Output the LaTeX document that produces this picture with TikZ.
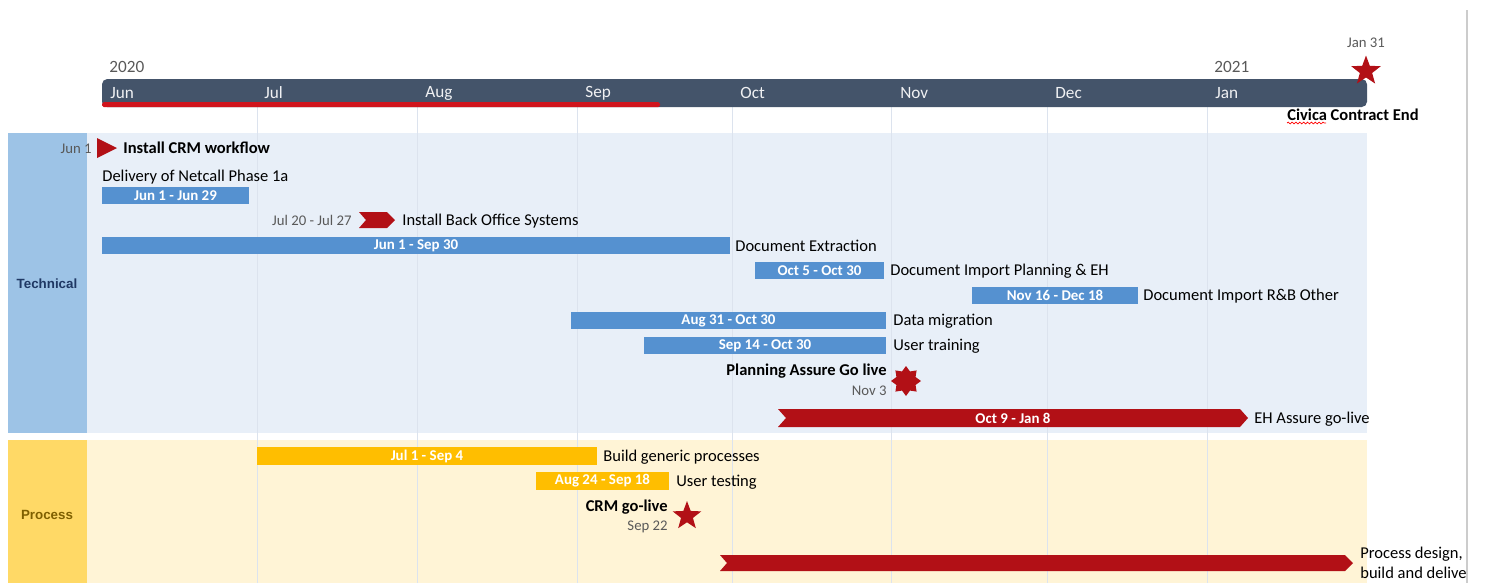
\documentclass[tikz,border=0pt]{standalone}
\usepackage{fontspec}
\setmainfont{Carlito}
\newfontfamily\arialfont{Liberation Sans}
\usepackage{xcolor}
\usepackage{tikz}
\usetikzlibrary{shapes.geometric, decorations.pathmorphing}

\definecolor{slate}{HTML}{44546A}
\definecolor{barblue}{HTML}{5591D0}
\definecolor{baryellow}{HTML}{FFBE00}
\definecolor{flagred}{HTML}{B21016}
\definecolor{progred}{HTML}{D0141C}
\definecolor{laneblue}{HTML}{E8EFF8}
\definecolor{laneblueside}{HTML}{9DC3E6}
\definecolor{laneyellow}{HTML}{FFF4D6}
\definecolor{laneyellowside}{HTML}{FFD966}
\definecolor{gridcol}{HTML}{DCE3EE}
\definecolor{datecol}{HTML}{595959}
\definecolor{techcol}{HTML}{1F3864}
\definecolor{proccol}{HTML}{7F6000}

\tikzset{
  tasklabel/.style={inner sep=0pt, font=\fontsize{9.4}{11}\selectfont},
  boldlabel/.style={inner sep=0pt, font=\fontsize{9.4}{11}\selectfont\bfseries},
  datelabel/.style={inner sep=0pt, text=datecol, font=\fontsize{8.4}{10}\selectfont},
  barlabel/.style={inner sep=0pt, text=white, font=\fontsize{8.5}{10}\selectfont\bfseries},
  monthlabel/.style={inner sep=0pt, anchor=west, text=white!92!slate, font=\fontsize{9.8}{11}\selectfont},
  lanelabel/.style={inner sep=0pt, font=\arialfont\fontsize{7.6}{9}\selectfont\bfseries},
  bluebar/.style={fill=barblue, draw=none},
  yellowbar/.style={fill=baryellow, draw=none},
  chevron/.style={fill=flagred},
  gridline/.style={draw=gridcol, line width=0.45pt}
}

\begin{document}
\begin{tikzpicture}[x=0.02cm, y=-0.02cm]
    \useasboundingbox (0,0) rectangle (1485,583);

    % Swimlanes
    \fill[laneblueside] (8,133) rectangle (87,433);
    \fill[laneblue] (87,133) rectangle (1367,433);
    \fill[laneyellowside] (8,440) rectangle (87,583);
    \fill[laneyellow] (87,440) rectangle (1367,583);
    \node[lanelabel, text=techcol] (technical) at (47,284) {Technical};
    \node[lanelabel, text=proccol] (process) at (47,515) {Process};

    % Month grid
    \foreach \gx in {257,417,577,732,891,1047,1207}
        \draw[gridline] (\gx,107) -- (\gx,583);
    \draw[gray!40, line width=1pt] (1467,10) -- (1467,583);

    % Time scale
    \fill[slate, rounded corners=3pt] (102,79) rectangle (1367,107);
    \fill[progred, rounded corners=1pt] (102,102) rectangle (660,107);
    \foreach \mx/\mn in {110/Jun,264/Jul,425/Aug,585/Sep,740/Oct,900/Nov,1055/Dec,1215/Jan}
        \node[monthlabel] (m\mn) at (\mx,93) {\mn};
    \node[tasklabel, anchor=west, text=datecol, font=\fontsize{9.8}{11}\selectfont] (y2020) at (109,67) {2020};
    \node[tasklabel, anchor=west, text=datecol, font=\fontsize{9.8}{11}\selectfont] (y2021) at (1214,67) {2021};

    % Contract end
    \node[star, star points=5, star point ratio=2.4, fill=flagred, inner sep=0pt, minimum size=0.62cm] (endstar) at (1366,71) {};
    \node[datelabel] (enddate) at (1366,43) {Jan 31};
    \node[boldlabel, anchor=west] (endtext) at (1287,115) {Civica Contract End};
    \draw[red, line width=0.4pt, decorate, decoration={snake, amplitude=0.5pt, segment length=2.2pt}]
        (1287,123) -- (1326,123);

    % Technical tasks
    \fill[flagred] (97,138) -- (117,148) -- (97,158) -- cycle;
    \node[datelabel, anchor=east] (crmdate) at (92,149) {Jun 1};
    \node[boldlabel, anchor=west] (crmflow) at (123,148) {Install CRM workflow};

    \node[tasklabel, anchor=west] (netcall) at (102,177) {Delivery of Netcall Phase 1a};
    \path[bluebar] (102,187) rectangle (249,204) node[pos=.5, barlabel] (b1) {Jun 1 - Jun 29};

    \fill[chevron] (359,212) -- (387,212) -- (395,220) -- (387,228) -- (359,228) -- (366,220) -- cycle;
    \node[datelabel, anchor=east] (bodate) at (352,220) {Jul 20 - Jul 27};
    \node[tasklabel, anchor=west] (backoffice) at (402,221) {Install Back Office Systems};

    \path[bluebar] (102,237) rectangle (730,254) node[pos=.5, barlabel] (b2) {Jun 1 - Sep 30};
    \node[tasklabel, anchor=west] (extract) at (735,246) {Document Extraction};

    \path[bluebar] (755,262) rectangle (884,279) node[pos=.5, barlabel] (b3) {Oct 5 - Oct 30};
    \node[tasklabel, anchor=west] (importeh) at (890,271) {Document Import Planning \& EH};

    \path[bluebar] (972,287) rectangle (1138,304) node[pos=.5, barlabel] (b4) {Nov 16 - Dec 18};
    \node[tasklabel, anchor=west] (importrb) at (1143,296) {Document Import R\&B Other};

    \path[bluebar] (571,312) rectangle (886,329) node[pos=.5, barlabel] (b5) {Aug 31 - Oct 30};
    \node[tasklabel, anchor=west] (migration) at (893,321) {Data migration};

    \path[bluebar] (644,337) rectangle (886,354) node[pos=.5, barlabel] (b6) {Sep 14 - Oct 30};
    \node[tasklabel, anchor=west] (training) at (893,346) {User training};

    \node[star, star points=8, star point ratio=1.45, fill=flagred, inner sep=0pt, minimum size=0.6cm] (paburst) at (906,381) {};
    \node[boldlabel, anchor=east] (palive) at (887,371) {Planning Assure Go live};
    \node[datelabel, anchor=east] (padate) at (887,391) {Nov 3};

    \fill[chevron] (778,409) -- (1240,409) -- (1248,418) -- (1240,427) -- (778,427) -- (786,418) -- cycle;
    \node[barlabel] (b7) at (1013,418) {Oct 9 - Jan 8};
    \node[tasklabel, anchor=west] (ehlive) at (1254,419) {EH Assure go-live};

    % Process tasks
    \path[yellowbar] (257,447) rectangle (597,465) node[pos=.5, barlabel] (p1) {Jul 1 - Sep 4};
    \node[tasklabel, anchor=west] (generic) at (603,457) {Build generic processes};

    \path[yellowbar] (536,472) rectangle (669,490) node[pos=.5, barlabel] (p2) {Aug 24 - Sep 18};
    \node[tasklabel, anchor=west] (testing) at (676,482) {User testing};

    \node[star, star points=5, star point ratio=2.4, fill=flagred, inner sep=0pt, minimum size=0.6cm] (crmstar) at (687,516) {};
    \node[boldlabel, anchor=east] (crmlive) at (668,507) {CRM go-live};
    \node[datelabel, anchor=east] (crmlivedate) at (668,527) {Sep 22};

    \fill[chevron] (720,555) -- (1345,555) -- (1353,563) -- (1345,571) -- (720,571) -- (727,563) -- cycle;
    \begin{scope}
        \clip (0,0) rectangle (1466,583);
        \node[tasklabel, anchor=west, align=left, font=\fontsize{9.4}{11.4}\selectfont] (design) at (1360,563) {Process design,\\build and deliver};
    \end{scope}
\end{tikzpicture}
\end{document}
